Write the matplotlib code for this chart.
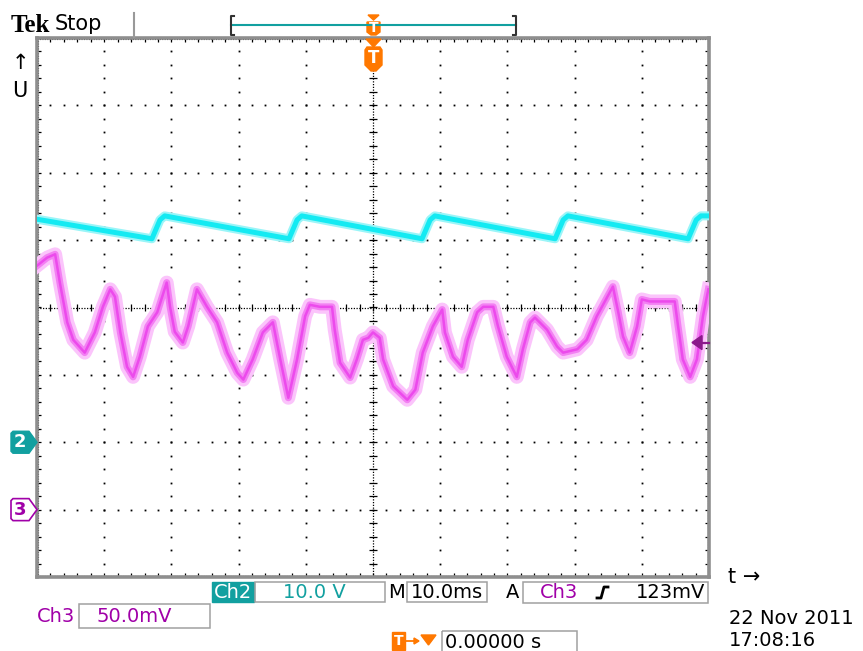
import numpy as np
import matplotlib.pyplot as plt
from matplotlib.patches import Polygon, Rectangle

# trace values in screen divisions (x: 0..10 div, y: -4..4 div)
ch2_x = [0.0, 1.71, 1.77, 1.83, 1.90, 3.75, 3.81, 3.87, 3.94, 5.73, 5.79, 5.85, 5.92,
         7.71, 7.77, 7.83, 7.90, 9.69, 9.75, 9.81, 9.88, 10.0]
ch2_y = [1.31, 1.02, 1.16, 1.30, 1.36, 1.02, 1.16, 1.30, 1.36, 1.02, 1.16, 1.30, 1.36,
         1.02, 1.16, 1.30, 1.36, 1.02, 1.16, 1.30, 1.36, 1.36]

ch3_x = [0.0, 0.15, 0.27, 0.34, 0.45, 0.54, 0.71, 0.86, 0.98, 1.09, 1.16, 1.24, 1.34, 1.43,
         1.53, 1.65, 1.79, 1.93, 1.98, 2.05, 2.17, 2.25, 2.38, 2.53, 2.68, 2.83, 2.98, 3.07,
         3.21, 3.36, 3.51, 3.62, 3.74, 3.87, 3.99, 4.06, 4.21, 4.39, 4.43, 4.51, 4.66, 4.76,
         4.85, 4.93, 5.00, 5.10, 5.15, 5.30, 5.51, 5.63, 5.74, 5.89, 6.03, 6.07, 6.19, 6.32,
         6.41, 6.55, 6.64, 6.79, 6.86, 6.99, 7.14, 7.23, 7.34, 7.41, 7.59, 7.74, 7.83, 8.04,
         8.18, 8.33, 8.57, 8.65, 8.72, 8.82, 8.93, 9.00, 9.12, 9.35, 9.49, 9.54, 9.61, 9.72,
         9.82, 9.91, 9.99]
ch3_y = [0.62, 0.74, 0.79, 0.37, -0.22, -0.48, -0.67, -0.37, 0.01, 0.27, 0.16, -0.37, -0.88,
         -1.03, -0.73, -0.28, -0.07, 0.37, 0.01, -0.36, -0.52, -0.28, 0.27, 0.01, -0.22,
         -0.67, -0.97, -1.07, -0.77, -0.37, -0.22, -0.77, -1.34, -0.77, -0.13, 0.04, 0.01,
         0.01, -0.33, -0.82, -1.04, -0.77, -0.48, -0.45, -0.37, -0.45, -0.77, -1.17, -1.37,
         -1.22, -0.67, -0.28, -0.03, -0.37, -0.73, -0.88, -0.48, -0.07, 0.01, 0.01, -0.28,
         -0.73, -1.03, -0.62, -0.22, -0.15, -0.33, -0.58, -0.67, -0.62, -0.48, -0.13, 0.31,
         -0.07, -0.43, -0.67, -0.28, 0.12, 0.09, 0.09, 0.09, -0.28, -0.77, -1.03, -0.77,
         -0.13, 0.27]

ch2_ground = -2.0
ch3_ground = -3.0
trig_level = -0.52

W, H = 863, 651
TEAL = '#12a0a0'
PURPLE = '#a000a8'
ORANGE = '#ff7800'
FS = 14

fig = plt.figure(figsize=(W / 100, H / 100), dpi=100)
L, R, T, B = 37, 709, 38, 577
ax = fig.add_axes([L / W, 1 - B / H, (R - L) / W, (B - T) / H])
ax.set_xlim(0, 10)
ax.set_ylim(-4, 4)
ax.set_xticks([])
ax.set_yticks([])
for s in ax.spines.values():
    s.set_color('#8e8e8e')
    s.set_linewidth(2.6)

# graticule
ys = np.arange(-4, 4.001, 0.2)
xs = np.arange(0, 10.001, 0.2)
for k in range(1, 10):
    if k != 5:
        ax.plot(np.full(len(ys), k), ys, 's', ms=1.3, color='k', mec='none')
for j in range(-3, 4):
    if j != 0:
        ax.plot(xs, np.full(len(xs), j), 's', ms=1.3, color='k', mec='none')
ax.axhline(0, ls=(0, (1, 1.2)), lw=0.9, color='k')
ax.axvline(5, ls=(0, (1, 1.2)), lw=0.9, color='k')
ax.vlines(xs, -0.05, 0.05, color='k', lw=0.9)
ax.hlines(ys, 4.94, 5.06, color='k', lw=0.9)
# border rulers
ax.vlines(xs, 3.94, 4, color='k', lw=0.9)
ax.vlines(xs, -4, -3.94, color='k', lw=0.9)
ax.hlines(ys, 0, 0.06, color='k', lw=0.9)
ax.hlines(ys, 9.94, 10, color='k', lw=0.9)
ax.plot([0, 10], [3.985, 3.985], ls=(0, (1, 1.2)), lw=0.8, color='k')
ax.plot([0, 10], [-3.985, -3.985], ls=(0, (1, 1.2)), lw=0.8, color='k')
ax.plot([0.015, 0.015], [-4, 4], ls=(0, (1, 1.2)), lw=0.8, color='k')
ax.plot([9.985, 9.985], [-4, 4], ls=(0, (1, 1.2)), lw=0.8, color='k')

# traces
ax.plot(ch2_x, ch2_y, color='#9af5f8', lw=6.5, solid_joinstyle='round', zorder=4)
ax.plot(ch2_x, ch2_y, color='#14eaf2', lw=3.6, solid_joinstyle='round', zorder=5)
ax.plot(ch3_x, ch3_y, color='#fbc4fb', lw=10, solid_joinstyle='round', zorder=4)
ax.plot(ch3_x, ch3_y, color='#f380f3', lw=5, solid_joinstyle='round', zorder=5)
ax.plot(ch3_x, ch3_y, color='#ec4aec', lw=1.8, solid_joinstyle='round', zorder=6)

# overlay in pixel coordinates for the scope chrome
ov = fig.add_axes([0, 0, 1, 1], zorder=10)
ov.set_xlim(0, W)
ov.set_ylim(H, 0)
ov.axis('off')
ov.patch.set_visible(False)

def y_px(v):
    return T + (4 - v) / 8 * (B - T)

# header
ov.text(11, 26, 'Tek', fontsize=18, fontweight='bold', family='Liberation Serif', va='center')
ov.text(55, 24, 'Stop', fontsize=15, va='center')
ov.plot([134, 134], [13, 37], color='#999999', lw=1.5)
ov.plot([231, 516], [25, 25], color=TEAL, lw=1.5)
ov.plot([234, 231, 231, 234], [16, 16, 35, 35], color='#333333', lw=1.5)
ov.plot([513, 516, 516, 513], [16, 16, 35, 35], color='#333333', lw=1.5)
ov.add_patch(Polygon([(368, 15), (379, 15), (373.5, 20)], color=ORANGE))
ov.add_patch(Polygon([(367, 22), (380, 22), (380, 32), (376, 35), (371, 35), (367, 32)], color=ORANGE))
ov.text(373.5, 28.5, 'T', color='white', fontsize=10, fontweight='bold', ha='center', va='center')

# trigger position marker
ov.add_patch(Polygon([(366, 39), (381, 39), (373.5, 47)], color=ORANGE))
ov.add_patch(Polygon([(365, 50), (367, 47), (380, 47), (382, 50), (382, 65), (376, 71),
                      (371, 71), (365, 65)], color=ORANGE))
ov.text(373.5, 58, 'T', color='white', fontsize=12, fontweight='bold', ha='center', va='center')

# axis labels
ov.text(20, 63, '\u2191', fontsize=15, ha='center', va='center')
ov.text(20, 91, 'U', fontsize=15, ha='center', va='center')
ov.text(728, 577, 't \u2192', fontsize=15, ha='left', va='center')

# channel ground markers
yc2 = y_px(ch2_ground)
ov.add_patch(Polygon([(11, yc2 - 9), (13, yc2 - 11), (29, yc2 - 11), (37, yc2), (29, yc2 + 11),
                      (13, yc2 + 11), (11, yc2 + 9)], color=TEAL))
ov.text(20, yc2, '2', color='white', fontsize=13, fontweight='bold', ha='center', va='center')
yc3 = y_px(ch3_ground)
ov.add_patch(Polygon([(11, yc3 - 9), (13, yc3 - 11), (29, yc3 - 11), (37, yc3), (29, yc3 + 11),
                      (13, yc3 + 11), (11, yc3 + 9)], facecolor='white', edgecolor=PURPLE, lw=1.2))
ov.text(20, yc3, '3', color=PURPLE, fontsize=13, fontweight='bold', ha='center', va='center')

# trigger level arrow
yt = y_px(trig_level)
ov.add_patch(Polygon([(692, yt), (702, yt - 7), (702, yt + 7)], color='#8b1a8b'))
ov.plot([700, 709], [yt, yt], color='#8b1a8b', lw=1.6)

# status line
def box(x0, y0, x1, y1):
    ov.add_patch(Rectangle((x0, y0), x1 - x0, y1 - y0, fill=False, edgecolor='#a0a0a0', lw=1.1))

ov.add_patch(Rectangle((212, 582), 42, 20, color=TEAL))
ov.text(233, 592, 'Ch2', color='white', fontsize=FS, ha='center', va='center')
box(255, 582, 385, 602)
ov.text(314, 592, '10.0 V', color=TEAL, fontsize=FS, ha='center', va='center')
ov.text(388, 592, 'M', fontsize=FS, ha='left', va='center')
box(407, 582, 487, 602)
ov.text(447, 592, '10.0ms', fontsize=FS, ha='center', va='center')
ov.text(506, 592, 'A', fontsize=FS, ha='left', va='center')
box(523, 582, 708, 603)
ov.text(540, 592, 'Ch3', color=PURPLE, fontsize=FS, ha='left', va='center')
ov.plot([597, 601, 604, 608], [598, 598, 587, 587], color='k', lw=2)
ov.text(705, 592, '123mV', fontsize=FS, ha='right', va='center')

ov.text(37, 616, 'Ch3', color=PURPLE, fontsize=FS, ha='left', va='center')
box(79, 604, 210, 628)
ov.text(96, 616, '50.0mV', color=PURPLE, fontsize=FS, ha='left', va='center')

ov.add_patch(Rectangle((392, 632), 13, 18, color=ORANGE))
ov.text(398.5, 641, 'T', color='white', fontsize=10, fontweight='bold', ha='center', va='center')
ov.plot([405, 418], [641, 641], color=ORANGE, lw=1.3)
ov.add_patch(Polygon([(414, 638), (419, 641), (414, 644)], color=ORANGE))
ov.add_patch(Polygon([(421, 635), (436, 635), (428.5, 645)], color=ORANGE))
box(442, 631, 577, 654)
ov.text(445, 642, '0.00000 s', fontsize=FS, ha='left', va='center')

ov.text(729, 619, '22 Nov 2011', fontsize=FS, ha='left', va='center')
ov.text(729, 641, '17:08:16', fontsize=FS, ha='left', va='center')

fig.savefig('out.png', dpi=100, facecolor='white')
